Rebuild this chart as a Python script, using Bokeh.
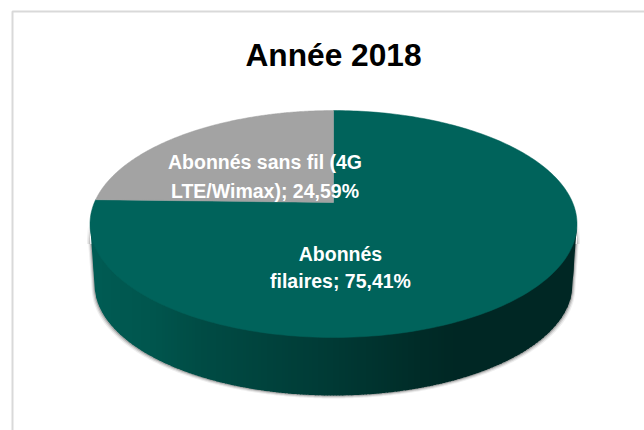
import numpy as np
from bokeh.plotting import figure
from bokeh.models import Range1d
from bokeh.core.properties import value
from bokeh.embed import file_html
from bokeh.resources import INLINE

title = "Année 2018"
categories = ["Abonnés filaires", "Abonnés sans fil (4G LTE/Wimax)"]
shares = [75.41, 24.59]
slice_colors = ["#00635b", "#a3a3a3"]
label_lines = [["Abonnés", "filaires; 75,41%"], ["Abonnés sans fil (4G", "LTE/Wimax); 24,59%"]]
FONT = "Liberation Sans"

# page coordinates of the reference
p = figure(width=644, height=430, x_range=Range1d(0, 644), y_range=Range1d(430, 0),
           output_backend="svg", toolbar_location=None, min_border=0,
           background_fill_color="white", border_fill_color="white")
p.axis.visible = False
p.grid.visible = False
p.outline_line_color = None

# chart frame
p.line([12, 12, 644], [430, 11, 11], line_color="#d9d9d9", line_width=2)

# perspective disc
CX, APEX_Y = 333.0, 202.0
PC = 0.1895
PA, PB = 239.1, 109.4
DEPTH_TOP, DEPTH_A, DEPTH_B, DEPTH_CY = 223.5, 239.0, 111.0, 284.0
TOP_A, TOP_B = 243.5, 113.5


def project(theta):
    u, v = np.sin(theta), np.cos(theta)
    w = 1 + PC * v
    return CX + PA * u / w, APEX_Y - PB * v / w


def top_lower(x):
    d = np.clip((x - CX) / TOP_A, -1, 1)
    return DEPTH_TOP + TOP_B * np.sqrt(1 - d * d)


def side_lower(x):
    d = np.abs(x - CX)
    inside = d <= DEPTH_A
    out = DEPTH_TOP + (d - TOP_A) / (DEPTH_A - TOP_A) * (DEPTH_CY - DEPTH_TOP)
    e = np.clip(d / DEPTH_A, 0, 1)
    return np.where(inside, DEPTH_CY + DEPTH_B * np.sqrt(1 - e * e), out)


# soft shadow around the side
xs_edge = np.linspace(CX - TOP_A, CX + TOP_A, 300)
for grow, alpha in [(3.0, 0.10), (2.0, 0.18), (1.0, 0.32)]:
    sx = CX + (xs_edge - CX) * (1 + grow / TOP_A)
    sy = side_lower(xs_edge) + grow
    p.patch(np.r_[sx, sx[::-1]], np.r_[sy, np.full_like(sy, DEPTH_TOP + 20)[::-1]],
            fill_color="#555555", fill_alpha=alpha, line_color=None)

# side wall with a horizontal shading
stop_x = [90, 150, 200, 333, 420, 460, 577]
stop_g = [92, 86, 76, 58, 44, 39, 39]
stop_b = [84, 78, 69, 53, 40, 36, 36]
edges = np.arange(CX - TOP_A, CX + TOP_A + 3, 3.0)
sxs, sys, scs = [], [], []
for a, b in zip(edges[:-1], edges[1:]):
    b2 = min(b + 0.6, CX + TOP_A)
    a = min(a, CX + TOP_A)
    xa = np.linspace(a, b2, 3)
    sxs.append(np.r_[xa, xa[::-1]].tolist())
    sys.append(np.r_[top_lower(xa) - 3, side_lower(xa)[::-1]].tolist())
    m = (a + b) / 2
    scs.append("#%02x%02x%02x" % (0, int(np.interp(m, stop_x, stop_g)), int(np.interp(m, stop_x, stop_b))))
p.patches(sxs, sys, fill_color=scs, line_color=None)

# top face, slices clockwise from twelve o'clock
start = 0.0
for share, color in zip(shares, slice_colors):
    end = start + share / 100 * 2 * np.pi
    th = np.linspace(start, end, 240)
    x, y = project(th)
    p.patch(np.r_[CX, x], np.r_[APEX_Y, y], fill_color=color, line_color=color, line_width=0.5)
    start = end

# texts
p.text([333], [54], text=[title], text_font=value(FONT), text_font_style="bold",
       text_font_size="31.7px", text_color="#000000", text_align="center", text_baseline="middle")
for lines, xc, ys in zip(label_lines, [340, 264.5], [[253, 280.5], [161.5, 190]]):
    p.text([xc, xc], ys, text=lines, text_font=value(FONT), text_font_style="bold",
           text_font_size="19.5px", text_color="#ffffff", text_align="center", text_baseline="middle")

open("out.html", "w").write(file_html(p, INLINE))
